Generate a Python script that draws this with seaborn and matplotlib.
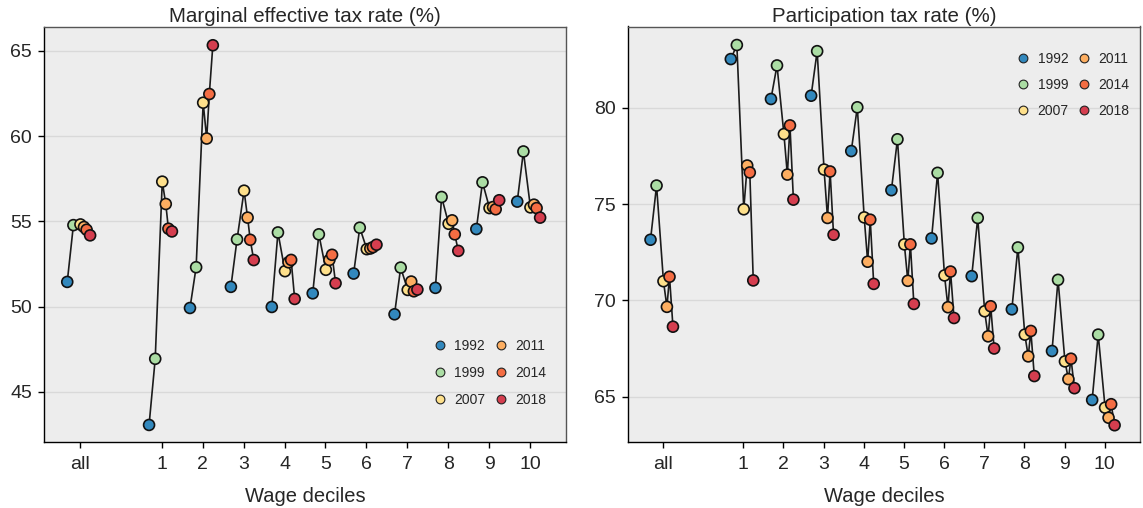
import numpy as np
import pandas as pd
import matplotlib
matplotlib.use("Agg")
import matplotlib.pyplot as plt
import seaborn as sns

# ---- data -------------------------------------------------------------
years = [1992, 1999, 2007, 2011, 2014, 2018]
groups = ["all", "1", "2", "3", "4", "5", "6", "7", "8", "9", "10"]

# Marginal effective tax rate (%), one list per year, values for each group
metr_1992 = [51.45, 43.06, 49.92, 51.16, 49.98, 50.78, 51.94, 49.55, 51.10, 54.55, 56.16]
metr_1999 = [54.78, 46.94, 52.31, 53.94, 54.35, 54.24, 54.63, 52.29, 56.43, 57.29, 59.10]
metr_2007 = [54.82, 57.33, 61.96, 56.80, 52.08, 52.16, 53.37, 50.98, 54.86, 55.78, 55.82]
metr_2011 = [54.67, 56.02, 59.86, 55.22, 52.60, 52.74, 53.41, 51.47, 55.06, 55.84, 55.98]
metr_2014 = [54.51, 54.57, 62.47, 53.92, 52.74, 53.04, 53.49, 50.90, 54.24, 55.71, 55.78]
metr_2018 = [54.18, 54.41, 65.33, 52.73, 50.45, 51.37, 53.63, 51.00, 53.27, 56.24, 55.22]

# Participation tax rate (%)
ptr_1992 = [73.15, 82.52, 80.45, 80.62, 77.75, 75.72, 73.22, 71.26, 69.54, 67.38, 64.84]
ptr_1999 = [75.96, 83.25, 82.19, 82.93, 80.02, 78.36, 76.62, 74.28, 72.75, 71.07, 68.23]
ptr_2007 = [71.00, 74.73, 78.63, 76.79, 74.31, 72.91, 71.30, 69.44, 68.23, 66.84, 64.44]
ptr_2011 = [69.67, 77.00, 76.53, 74.28, 72.01, 71.02, 69.65, 68.14, 67.10, 65.92, 63.92]
ptr_2014 = [71.23, 76.64, 79.08, 76.69, 74.19, 72.91, 71.50, 69.70, 68.42, 66.98, 64.62]
ptr_2018 = [68.64, 71.04, 75.23, 73.41, 70.86, 69.82, 69.09, 67.51, 66.08, 65.45, 63.53]

palette = {1992: "#3288bd", 1999: "#abdda4", 2007: "#fee08b",
           2011: "#fdae61", 2014: "#f46d43", 2018: "#d53e4f"}

metr = dict(zip(years, [metr_1992, metr_1999, metr_2007, metr_2011, metr_2014, metr_2018]))
ptr = dict(zip(years, [ptr_1992, ptr_1999, ptr_2007, ptr_2011, ptr_2014, ptr_2018]))

# "all" sits at 0, deciles 1..10 at 2..11 (a gap after "all")
group_pos = [0] + list(range(2, 12))


def long_frame(table):
    rows = []
    for gi, g in enumerate(groups):
        for y in years:
            rows.append({"group": g, "year": y, "value": table[y][gi],
                         "x": group_pos[gi] + (y - 2006.5) * 0.0215})
    return pd.DataFrame(rows)


df_metr = long_frame(metr)
df_ptr = long_frame(ptr)

# ---- style ------------------------------------------------------------
sns.set_theme(style="ticks")
plt.rcParams["font.family"] = ["Liberation Sans", "DejaVu Sans"]

fig = plt.figure(figsize=(11.43, 5.08), dpi=100)
W, H = 1143, 508
bottom, top = 442, 26.5
ax1 = fig.add_axes([44 / W, (H - bottom) / H, 522 / W, (bottom - top) / H])
ax2 = fig.add_axes([627.7 / W, (H - bottom) / H, 512.3 / W, (bottom - top) / H])


def draw(ax, df, title, ylim, yticks, leg_anchor, leg_spacing):
    ax.set_facecolor("#ededed")
    ax.set_axisbelow(True)
    ax.yaxis.grid(True, color="#d9d9d9", lw=1.0)
    sns.lineplot(data=df, x="x", y="value", units="group", estimator=None,
                 sort=False, color="#1c1c1c", lw=1.2, ax=ax, legend=False)
    sns.scatterplot(data=df, x="x", y="value", hue="year", palette=palette,
                    s=62, edgecolor="#111111", linewidth=1.2, ax=ax,
                    legend=True, zorder=3)
    ax.set_xlim(-0.88, 11.88)
    ax.set_ylim(*ylim)
    ax.set_yticks(yticks)
    ax.set_xticks(group_pos)
    ax.set_xticklabels(groups)
    ax.set_xlabel("Wage deciles", fontsize=14.5, labelpad=10.5)
    ax.set_ylabel("")
    ax.set_title(title, fontsize=14.8, pad=1.5)
    ax.tick_params(axis="both", labelsize=14, length=4.5, width=1,
                   color="black", pad=4)
    ax.tick_params(axis="x", pad=5.5)
    for side in ["left", "bottom"]:
        ax.spines[side].set_color("black")
        ax.spines[side].set_linewidth(1.0)
    for side in ["top", "right"]:
        ax.spines[side].set_visible(True)
        ax.spines[side].set_color("#555555")
        ax.spines[side].set_linewidth(1.0)
    sns.move_legend(ax, loc="upper left", bbox_to_anchor=leg_anchor, ncol=2,
                    title=None, frameon=False, fontsize=10, markerscale=0.8,
                    handlelength=1.0, handletextpad=0.55, columnspacing=0.6,
                    labelspacing=leg_spacing, borderpad=0, borderaxespad=0)
    for h in ax.get_legend().legend_handles:
        h.set_markeredgewidth(0.8)
        h.set_markeredgecolor("#222222")


draw(ax1, df_metr, "Marginal effective tax rate (%)",
     (42.06, 66.43), [45, 50, 55, 60, 65], (0.745, 0.248), 0.95)
draw(ax2, df_ptr, "Participation tax rate (%)",
     (62.66, 84.21), [65, 70, 75, 80], (0.758, 0.938), 0.85)

fig.savefig("out.png", dpi=100)
